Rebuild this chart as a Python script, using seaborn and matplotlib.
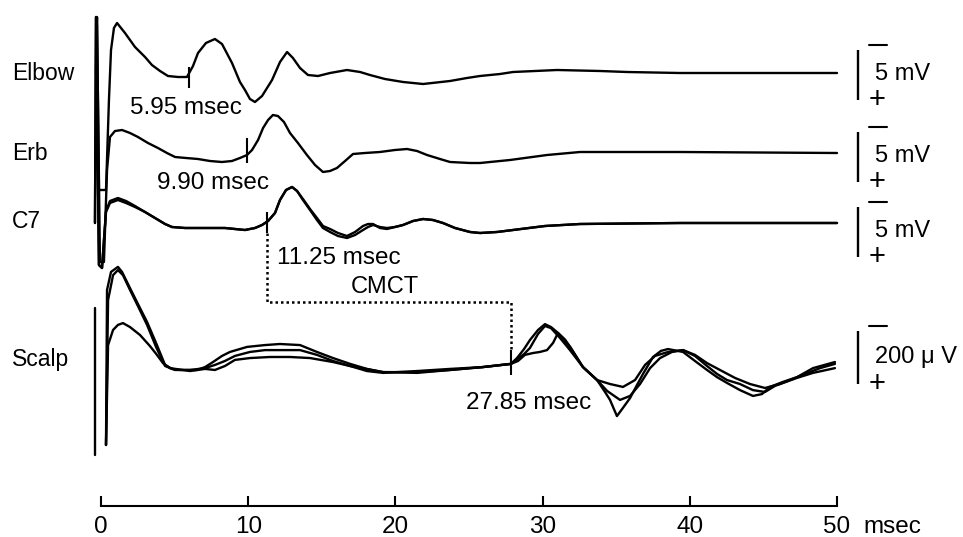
import numpy as np
import pandas as pd
import matplotlib
matplotlib.use("Agg")
import matplotlib.pyplot as plt
import seaborn as sns

# ---------------- data (time in msec, amplitude: mV for nerve traces, µV for scalp; negative = up) -------------
trace_names = ["Elbow", "Erb", "C7", "Scalp"]
latencies = [5.95, 9.90, 11.25, 27.85]
latency_labels = ["5.95 msec", "9.90 msec", "11.25 msec", "27.85 msec"]
scale_labels = ["5 mV", "5 mV", "5 mV", "200 μ V"]
scale_amp = [5, 5, 5, 200]
xtick_vals = [0, 10, 20, 30, 40, 50]
xtick_labels = ["0", "10", "20", "30", "40", "50"]

elbow_ms = [-0.34, -0.27, -0.14, 0.34, 0.54, 0.68, 0.88, 1.09, 1.63, 2.31, 2.99, 3.46, 4.01, 4.55, 5.23,
            5.84, 6.25, 6.59, 7.13, 7.74, 8.22, 8.90, 9.44, 9.78, 10.12, 10.46, 10.94, 11.62, 12.16, 12.64,
            13.04, 13.52, 14.06, 14.74, 15.56, 16.71, 17.60, 18.27, 19.29, 20.52, 21.88, 23.71, 24.86,
            25.75, 27.11, 27.99, 30.98, 33.90, 35.73, 39.33, 50.0]
elbow_mv = [0, -5.6, 11.7, 11.7, 2.7, -2.3, -4.5, -5.0, -4.0, -2.6, -1.6, -0.8, -0.2, 0.3, 0.4,
            0.4, -0.7, -2.0, -3.0, -3.4, -2.9, -1.0, 0.9, 1.7, 2.6, 2.9, 2.3, 0.7, -1.1, -2.1,
            -1.5, -0.5, 0.2, 0.3, 0, -0.3, -0.1, 0.2, 0.6, 0.9, 1.1, 0.8, 0.5,
            0.3, 0.1, -0.1, -0.3, -0.2, -0.1, 0, 0]

erb_ms = [-0.34, -0.27, -0.07, 0.20, 0.41, 0.61, 0.95, 1.43, 1.97, 2.51, 3.19, 3.87, 4.48, 5.03, 5.77,
          6.59, 7.40, 8.22, 8.90, 9.44, 9.92, 10.26, 10.67, 11.01, 11.35, 11.68, 12.02, 12.43, 12.84, 13.38,
          13.99, 14.54, 15.08, 15.56, 16.03, 16.58, 17.12, 17.93, 18.95, 19.97, 20.79, 21.47, 22.15, 23.03,
          23.71, 25.07, 25.75, 27.79, 30.30, 32.54, 39.33, 50.0]
erb_mv = [0, -12.8, 10.9, 10.9, 1.7, -1.6, -2.2, -2.3, -2.0, -1.6, -1.0, -0.5, 0, 0.4, 0.5,
          0.6, 0.8, 0.9, 0.8, 0.5, 0.2, -0.3, -1.3, -2.5, -3.3, -3.8, -3.7, -3.1, -2.0, -1.0,
          0.2, 1.2, 1.9, 1.8, 1.5, 0.8, 0.1, 0, -0.1, -0.3, -0.4, -0.2, 0.2, 0.6,
          0.9, 1.0, 1.0, 0.7, 0.2, -0.1, -0.1, 0]

c7_ms = [-0.41, -0.34, -0.14, 0.07, 0.20, 0.34, 0.61, 1.15, 1.70, 2.31, 2.99, 3.67, 4.35, 4.82, 5.71,
         6.59, 7.54, 8.42, 9.10, 9.78, 10.46, 10.94, 11.35, 11.82, 12.16, 12.57, 12.98, 13.32, 13.72, 14.20,
         14.67, 15.08, 15.56, 16.10, 16.71, 17.26, 17.80, 18.14, 18.48, 18.95, 19.43, 19.97, 20.52, 21.20,
         21.88, 22.55, 23.23, 24.05, 25.07, 25.75, 26.90, 27.99, 30.16, 32.54, 39.33, 50.0]
c7a_mv = [0, -20.6, 4.2, 4.5, 1.7, -1.1, -2.0, -2.3, -2.0, -1.6, -1.1, -0.5, 0.1, 0.4, 0.5,
          0.5, 0.5, 0.5, 0.6, 0.7, 0.5, 0.2, -0.2, -1.0, -2.3, -3.3, -3.6, -3.2, -2.3, -1.3,
          -0.3, 0.5, 0.9, 1.3, 1.5, 1.2, 0.7, 0.4, 0.2, 0.4, 0.5, 0.4, 0.2, -0.2,
          -0.4, -0.3, 0.0, 0.5, 0.9, 1.0, 0.9, 0.7, 0.3, 0.1, 0, 0]
c7b_mv = [0, -20.6, 4.2, 4.5, 1.7, -1.2, -2.2, -2.5, -2.2, -1.7, -1.1, -0.5, 0.1, 0.4, 0.5,
          0.5, 0.5, 0.5, 0.6, 0.7, 0.5, 0.2, -0.2, -1.0, -2.3, -3.3, -3.6, -3.2, -2.4, -1.4,
          -0.5, 0.3, 0.6, 1.0, 1.3, 0.9, 0.3, 0.1, 0.1, 0.5, 0.6, 0.4, 0.2, -0.2,
          -0.4, -0.3, 0.0, 0.5, 0.9, 1.0, 0.9, 0.7, 0.3, 0.1, 0, 0]

scalp_a_ms = [0.34, 0.41, 0.68, 1.15, 1.43, 1.97, 2.51, 3.13, 3.74, 4.35, 4.82, 5.37, 6.52, 7.07, 7.61,
              8.22, 8.76, 9.92, 11.14, 12.16, 13.52, 14.67, 15.76, 16.92, 18.07, 19.16, 21.47, 23.71, 25.95,
              27.85, 28.26, 28.74, 29.14, 29.69, 30.16, 30.57, 30.98, 31.86, 32.74, 33.70, 34.24, 34.58,
              35.05, 35.46, 35.94, 36.41, 36.82, 37.50, 38.04, 38.52, 39.54, 40.35, 41.17, 41.85, 42.53,
              43.41, 44.29, 44.90, 45.45, 46.33, 47.28, 48.37, 49.86]
scalp_a_uv = [298, -287, -355, -374, -355, -294, -234, -166, -87, -4, 11, 15, 15, 4, -15,
              -38, -53, -72, -79, -83, -79, -53, -30, -8, 11, 23, 23, 15, 4,
              -8, -30, -64, -98, -136, -158, -147, -128, -72, 4, 53, 98, 128,
              189, 158, 121, 72, 30, -34, -57, -64, -53, -19, 15, 42, 64,
              91, 113, 106, 79, 60, 42, 8, -15]

scalp_b_ms = [0.34, 0.48, 0.82, 1.15, 1.49, 1.97, 2.65, 3.33, 3.80, 4.21, 4.69, 6.05, 7.07, 7.74, 8.42,
              9.10, 10.12, 11.48, 12.84, 14.20, 15.76, 16.92, 19.16, 21.47, 23.71, 25.95, 27.85, 28.33,
              28.80, 29.35, 29.82, 30.30, 30.71, 31.05, 31.52, 31.90, 32.74, 33.70, 34.58, 35.46, 36.28,
              36.96, 37.64, 38.52, 39.54, 40.35, 41.17, 42.05, 43.07, 44.09, 45.11, 46.13, 47.28, 48.37, 49.86]
scalp_b_uv = [298, -79, -136, -155, -162, -147, -117, -75, -42, -11, 8, 19, 11, 15, 0,
              -23, -30, -34, -34, -30, -15, 0, 23, 26, 15, 4, -8, -19,
              -42, -49, -53, -60, -87, -125, -100, -70, 4, 53, 68, 79, 53,
              -4, -38, -53, -60, -42, -11, 15, 45, 68, 83, 68, 45, 26, 8]

scalp_c_ms = [0.34, 0.48, 0.82, 1.15, 1.49, 1.97, 2.51, 3.13, 3.74, 4.35, 5.03, 6.05, 7.07, 7.74, 8.42,
              9.10, 10.12, 11.14, 12.16, 13.52, 14.67, 15.76, 16.92, 18.07, 19.16, 21.47, 23.71, 25.95,
              27.85, 28.26, 28.74, 29.14, 29.69, 30.16, 30.57, 31.18, 31.86, 32.74, 33.70, 34.38, 35.26,
              35.94, 36.62, 37.30, 37.98, 38.79, 39.54, 40.35, 41.17, 41.85, 42.53, 43.41, 44.29, 45.11,
              45.79, 46.81, 47.83, 48.85, 49.86]
scalp_c_uv = [298, -249, -343, -362, -343, -287, -226, -155, -72, 0, 15, 15, 8, -4, -19,
              -38, -53, -60, -60, -60, -42, -19, 0, 19, 26, 19, 11, 4,
              -8, -26, -45, -68, -121, -151, -143, -106, -60, 4, 53, 94, 128,
              113, 68, 8, -30, -53, -60, -38, 0, 30, 53, 68, 91, 98,
              75, 53, 30, 8, -8]

scalp_stim_ms = [-0.41, -0.41]
scalp_stim_uv = [-219, 336]

# latency marker extents (in trace units) on each trace
marker_lo = [-0.6, -1.5, -1.1, -60]
marker_hi = [1.5, 1.0, 1.0, 34]

# ---------------- layout (figure pixels) ----------------
W, H = 963, 537
X0_PX, PX_PER_MS = 101, 14.72
AXIS_Y = 506
base_px = {"Elbow": 73, "Erb": 153, "C7": 223, "Scalp": 366}
gain = {"Elbow": 10.0, "Erb": 10.0, "C7": 10.0, "Scalp": 0.265}   # px per unit (mV or µV)
label_y = {"Elbow": 73, "Erb": 153, "C7": 222, "Scalp": 360}
scale_center = [75, 157, 232, 358]
lat_text_pos = [(130, 108), (157, 183), (277, 258), (466, 403)]
INK = "black"


def ms_of(px):
    return (px - X0_PX) / PX_PER_MS


rows = []


def add(unit, trace, ms, vals):
    assert len(ms) == len(vals), unit
    for t, v in zip(ms, vals):
        rows.append({"unit": unit, "ms": t, "y": base_px[trace] + v * gain[trace]})


add("elbow", "Elbow", elbow_ms, elbow_mv)
add("erb", "Erb", erb_ms, erb_mv)
add("c7a", "C7", c7_ms, c7a_mv)
add("c7b", "C7", c7_ms, c7b_mv)
add("scalp_a", "Scalp", scalp_a_ms, scalp_a_uv)
add("scalp_b", "Scalp", scalp_b_ms, scalp_b_uv)
add("scalp_c", "Scalp", scalp_c_ms, scalp_c_uv)
add("scalp_stim", "Scalp", scalp_stim_ms, scalp_stim_uv)
df = pd.DataFrame(rows)

sns.set_style("white")
plt.rcParams["font.family"] = ["Liberation Sans", "DejaVu Sans"]
plt.rcParams["text.color"] = INK

fig = plt.figure(figsize=(W / 100, H / 100), dpi=100)
ax = fig.add_axes([0, (H - AXIS_Y) / H, 1, AXIS_Y / H])
ax.set_xlim(ms_of(0), ms_of(W))
ax.set_ylim(AXIS_Y, 0)

sns.lineplot(data=df, x="ms", y="y", units="unit", estimator=None, sort=False,
             color=INK, linewidth=1.7, ax=ax, legend=False)

# latency markers
for name, lat, lo, hi in zip(trace_names, latencies, marker_lo, marker_hi):
    ax.vlines(lat, base_px[name] + lo * gain[name], base_px[name] + hi * gain[name],
              color=INK, lw=1.5)

# latency labels
for txt, (px, py) in zip(latency_labels, lat_text_pos):
    ax.text(ms_of(px), py, txt, fontsize=17.5, ha="left", va="center", color=INK)

# trace labels
for name in trace_names:
    ax.text(ms_of(12), label_y[name], name, fontsize=16.5, ha="left", va="center", color=INK)

# CMCT dotted bracket
c7_tick_bottom = base_px["C7"] + marker_hi[2] * gain["C7"]
scalp_tick_top = base_px["Scalp"] + marker_lo[3] * gain["Scalp"]
ax.plot([latencies[2], latencies[2], latencies[3], latencies[3]],
        [c7_tick_bottom, 302, 302, scalp_tick_top],
        color=INK, lw=1.8, linestyle=(0, (1, 1.2)))
ax.text(ms_of(385), 287, "CMCT", fontsize=17, ha="center", va="center", color=INK)

# calibration bars
bar_x = ms_of(858)
for name, ctr, amp, lab in zip(trace_names, scale_center, scale_amp, scale_labels):
    half = amp * gain[name] / 2
    ax.vlines(bar_x, ctr - half, ctr + half, color=INK, lw=1.7)
    ax.plot([ms_of(869), ms_of(887)], [ctr - half - 5, ctr - half - 5], color=INK, lw=1.5)
    ax.text(ms_of(877), ctr + half, "+", fontsize=21, ha="center", va="center", color=INK)
    ax.text(ms_of(875), ctr - 1, lab, fontsize=17, ha="left", va="center", color=INK)

# time axis
for s in ["top", "right", "left"]:
    ax.spines[s].set_visible(False)
ax.spines["bottom"].set_bounds(0, 50)
ax.spines["bottom"].set_linewidth(1.5)
ax.spines["bottom"].set_color(INK)
ax.set_xticks(xtick_vals)
ax.set_xticklabels(xtick_labels)
ax.set_yticks([])
ax.tick_params(axis="x", bottom=True, direction="in", length=7.5, width=1.5, pad=7,
               labelsize=17.5, colors=INK, labelcolor=INK)
ax.set_xlabel("")
ax.set_ylabel("")
ax.text(ms_of(863), 527, "msec", fontsize=17.5, ha="left", va="center", clip_on=False, color=INK)

fig.savefig("out.png", dpi=100)
